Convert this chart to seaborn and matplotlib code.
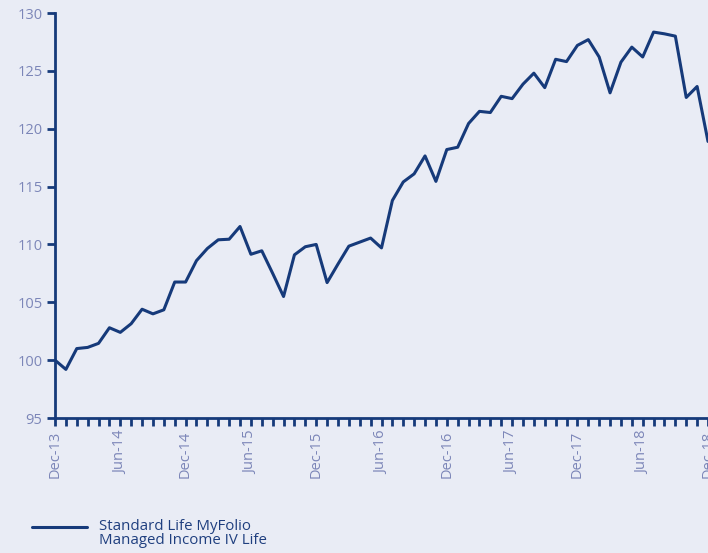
import numpy as np
import pandas as pd
import seaborn as sns
import matplotlib.pyplot as plt
from matplotlib.legend_handler import HandlerLine2D

# monthly index values, Dec-13 .. Dec-18
values = [100.0, 99.2, 101.0, 101.1, 101.45, 102.8, 102.4, 103.15, 104.4, 104.0,
          104.35, 106.75, 106.75, 108.6, 109.65, 110.4, 110.45, 111.55, 109.15, 109.45,
          107.5, 105.5, 109.1, 109.8, 110.0, 106.7, 108.3, 109.85, 110.2, 110.55,
          109.7, 113.8, 115.4, 116.1, 117.65, 115.45, 118.2, 118.4, 120.45, 121.5,
          121.4, 122.8, 122.6, 123.85, 124.8, 123.55, 126.0, 125.8, 127.2, 127.7,
          126.2, 123.1, 125.75, 127.05, 126.2, 128.35, 128.2, 128.0, 122.7, 123.65,
          118.9]
months = list(range(len(values)))
tick_labels = ['Dec-13', 'Jun-14', 'Dec-14', 'Jun-15', 'Dec-15', 'Jun-16',
               'Dec-16', 'Jun-17', 'Dec-17', 'Jun-18', 'Dec-18']
series_name = 'Standard Life MyFolio\nManaged Income IV Life'

bg = '#E9ECF5'
navy = '#163A7A'
label_col = '#7C86B8'

sns.set_style('white')
plt.rcParams['font.family'] = ['Open Sans', 'DejaVu Sans']


# legend line sits level with the first line of the label
class UpperLine(HandlerLine2D):
    def create_artists(self, legend, orig_handle, xdescent, ydescent,
                       width, height, fontsize, trans):
        return super().create_artists(legend, orig_handle, xdescent, ydescent - 10,
                                      width, height, fontsize, trans)


df = pd.DataFrame({'month': months, 'value': values, 'series': series_name})

fig = plt.figure(figsize=(7.08, 5.53), dpi=100, facecolor=bg)
ax = fig.add_axes([55 / 708, (553 - 418) / 553, (708 - 55) / 708, (418 - 13) / 553])
ax.set_facecolor(bg)

sns.lineplot(data=df, x='month', y='value', hue='series', palette=[navy],
             linewidth=2.2, ax=ax, legend=False)

ax.set_xlim(0, 60)
ax.set_ylim(95, 130)
ax.set_yticks(np.arange(95, 131, 5))
ax.set_xticks(months, minor=True)
ax.set_xticks(range(0, 61, 6))
ax.set_xticklabels(tick_labels, rotation=90)
ax.tick_params(axis='both', which='both', direction='out', length=6, width=2,
               color=navy, labelcolor=label_col, labelsize=10.5, pad=3,
               bottom=True, left=True)
ax.tick_params(axis='x', which='minor', length=6, width=2, bottom=True)
ax.set_xlabel('')
ax.set_ylabel('')
for side in ['top', 'right']:
    ax.spines[side].set_visible(False)
for side in ['left', 'bottom']:
    ax.spines[side].set_color(navy)
    ax.spines[side].set_linewidth(2)
ax.grid(False)

handle = plt.Line2D([], [], color=navy, linewidth=2.2)
leg = fig.legend([handle], [series_name], loc='upper left',
                 bbox_to_anchor=(18 / 708, 1 - 505 / 553), frameon=False,
                 handlelength=3.7, handletextpad=0.8, fontsize=10.8,
                 labelspacing=0.2, handler_map={plt.Line2D: UpperLine()})
for t in leg.get_texts():
    t.set_color('#1F3F7F')
    t.set_linespacing(0.95)

fig.savefig('out.png', dpi=100, facecolor=bg)
